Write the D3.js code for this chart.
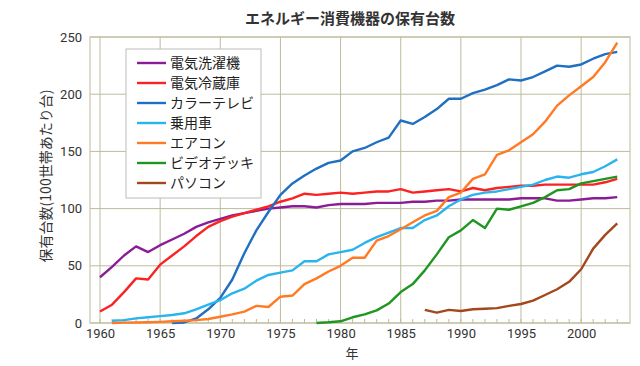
<!DOCTYPE html>
<html>
<head>
<meta charset="utf-8">
<script src="https://cdn.jsdelivr.net/npm/d3@7"></script>
<style>
  body { margin: 0; background: #fff; }
  svg { display: block; font-family: "Noto Sans CJK JP", "Noto Sans", sans-serif; }
</style>
</head>
<body>
<div id="chart"></div>
<script>
const seriesNames = ["電気洗濯機", "電気冷蔵庫", "カラーテレビ", "乗用車", "エアコン", "ビデオデッキ", "パソコン"];
const colors = ["#8a1c96", "#fa2222", "#1f6fc2", "#2ab4ee", "#ff7a22", "#1f961f", "#a3471c"];

// 1960-2003
const washer = [40, 49, 59, 67, 62, 68, 73, 78, 84, 88, 91, 94, 96, 98, 100, 101, 102, 102, 101, 103,
  104, 104, 104, 105, 105, 105, 106, 106, 107, 107, 108, 108, 108, 108, 108, 109, 109, 109, 107, 107,
  108, 109, 109, 110];
const fridge = [10, 16, 27, 39, 38, 51, 59, 67, 76, 84, 89, 93, 96, 99, 102, 106, 109, 113, 112, 113,
  114, 113, 114, 115, 115, 117, 114, 115, 116, 117, 115, 118, 116, 118, 119, 120, 120, 121, 121, 121,
  121, 121, 123, 126];
const colorTv = [null, null, null, null, null, null, 0, 0.5, 4, 12, 22, 38, 61, 81, 97, 112, 122, 129, 135, 140,
  142, 150, 153, 158, 162, 177, 174, 180, 187, 196, 196, 201, 204, 208, 213, 212, 215, 220, 225, 224,
  226, 231, 235, 237];
const car = [null, 2, 2.5, 4, 5, 6, 7, 8.5, 12, 16, 20, 26, 30, 37, 42, 44, 46, 54, 54, 60,
  62, 64, 70, 75, 79, 83, 83, 90, 94, 102, 108, 112, 114, 115, 117, 119, 121, 125, 128, 127,
  130, 132, 137, 143];
const aircon = [null, 0, 0.3, 0.5, 0.7, 1, 1.5, 2, 2.5, 3.5, 5.5, 7.5, 10, 15, 14, 23, 24, 34, 39, 45,
  50, 57, 57, 72, 76, 82, 88, 94, 98, 110, 114, 126, 130, 147, 151, 158, 165, 176, 190, 199,
  207, 215, 228, 245];
const vcr = [null, null, null, null, null, null, null, null, null, null, null, null, null, null, null, null, null, null, 0, 0.6,
  1.5, 5, 7.5, 11, 17, 27, 34, 46, 60, 75, 81, 90, 83, 100, 99, 102, 105, 110, 116, 117,
  122, 124, 126, 128];
const pc = [null, null, null, null, null, null, null, null, null, null, null, null, null, null, null, null, null, null, null, null,
  null, null, null, null, null, null, null, 11.5, 9, 11.5, 10.5, 12, 12.5, 13, 15, 16.6, 19.5, 24.5, 29.5, 36,
  47, 65, 77, 87];
const seriesValues = [washer, fridge, colorTv, car, aircon, vcr, pc];
const years = d3.range(1960, 2004);
const yTicks = [0, 50, 100, 150, 200, 250];
const xTicks = [1960, 1965, 1970, 1975, 1980, 1985, 1990, 1995, 2000];

const width = 640;
const height = 366;
const margin = { top: 37, right: 10, bottom: 43, left: 90 };
const gridColor = "#bdbb9c";

const svg = d3.select("#chart")
  .append("svg")
  .attr("width", width)
  .attr("height", height);

const x = d3.scaleLinear()
  .domain([1959.17, 2004.06])
  .range([margin.left, width - margin.right]);

const y = d3.scaleLinear()
  .domain([0, 250])
  .range([height - margin.bottom, margin.top]);

// grid
svg.append("g")
  .selectAll("line")
  .data(xTicks)
  .join("line")
    .attr("x1", d => x(d)).attr("x2", d => x(d))
    .attr("y1", y(0)).attr("y2", y(250))
    .attr("stroke", gridColor);

svg.append("g")
  .selectAll("line")
  .data(yTicks)
  .join("line")
    .attr("x1", x.range()[0]).attr("x2", x.range()[1])
    .attr("y1", d => y(d)).attr("y2", d => y(d))
    .attr("stroke", gridColor);

svg.append("rect")
  .attr("x", x.range()[0])
  .attr("y", y(250))
  .attr("width", x.range()[1] - x.range()[0])
  .attr("height", y(0) - y(250))
  .attr("fill", "none")
  .attr("stroke", gridColor);

// yearly minor ticks
svg.append("g")
  .selectAll("line")
  .data(years)
  .join("line")
    .attr("x1", d => x(d)).attr("x2", d => x(d))
    .attr("y1", y(0)).attr("y2", y(0) - 4)
    .attr("stroke", gridColor);

// axes
const xAxis = g => g
  .attr("transform", `translate(0, ${y(0)})`)
  .call(d3.axisBottom(x).tickValues(xTicks).tickFormat(d3.format("d")).tickSize(0).tickPadding(6))
  .call(g => g.select(".domain").remove())
  .attr("font-size", "13px")
  .attr("font-family", "Roboto, 'Noto Sans', sans-serif")
  .selectAll("text").attr("fill", "#333");

const yAxis = g => g
  .attr("transform", `translate(${margin.left}, 0)`)
  .call(d3.axisLeft(y).tickValues(yTicks).tickSize(0).tickPadding(8))
  .call(g => g.select(".domain").remove())
  .attr("font-size", "13px")
  .attr("font-family", "Roboto, 'Noto Sans', sans-serif")
  .selectAll("text").attr("fill", "#333");

svg.append("g").call(xAxis);
svg.append("g").call(yAxis);

// lines
const line = d3.line()
  .defined(d => d[1] != null)
  .x(d => x(d[0]))
  .y(d => y(d[1]));

svg.append("g")
  .selectAll("path")
  .data(seriesValues)
  .join("path")
    .attr("d", vals => line(years.map((yr, i) => [yr, vals[i]])))
    .attr("fill", "none")
    .attr("stroke", (d, i) => colors[i])
    .attr("stroke-width", 2.4)
    .attr("stroke-linejoin", "round");

// titles
svg.append("text")
  .attr("x", 350).attr("y", 24)
  .attr("text-anchor", "middle")
  .attr("font-size", "15px")
  .attr("font-weight", "bold")
  .attr("fill", "#333")
  .text("エネルギー消費機器の保有台数");

svg.append("text")
  .attr("x", 352).attr("y", 358)
  .attr("text-anchor", "middle")
  .attr("font-size", "13px")
  .attr("fill", "#333")
  .text("年");

svg.append("text")
  .attr("transform", "translate(51, 176) rotate(-90)")
  .attr("text-anchor", "middle")
  .attr("font-size", "14px")
  .attr("fill", "#333")
  .text("保有台数(100世帯あたり台)");

// legend
const legend = svg.append("g");
legend.append("rect")
  .attr("x", 126).attr("y", 49)
  .attr("width", 135).attr("height", 149)
  .attr("fill", "#fff")
  .attr("stroke", "#bbb");

const item = legend.selectAll("g")
  .data(seriesNames)
  .join("g")
    .attr("transform", (d, i) => `translate(0, ${63 + i * 20})`);

item.append("line")
  .attr("x1", 137).attr("x2", 166)
  .attr("stroke", (d, i) => colors[i])
  .attr("stroke-width", 2.4);

item.append("text")
  .attr("x", 170).attr("dy", "0.35em")
  .attr("font-size", "14px")
  .attr("fill", "#222")
  .text(d => d);
</script>
</body>
</html>
